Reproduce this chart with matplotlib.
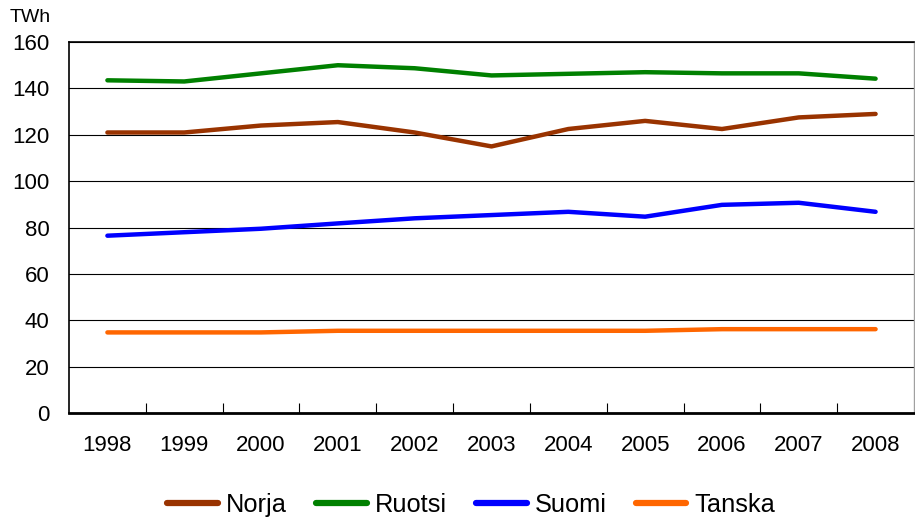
import numpy as np
import matplotlib.pyplot as plt

plt.rcParams['font.family'] = ['Liberation Sans', 'DejaVu Sans']

years = ['1998', '1999', '2000', '2001', '2002', '2003', '2004', '2005', '2006', '2007', '2008']
norja = [121, 121, 124, 125.5, 121, 115, 122.5, 126, 122.5, 127.5, 129]
ruotsi = [143.5, 143, 146.5, 150, 148.7, 145.6, 146.3, 147, 146.5, 146.5, 144.2]
suomi = [76.5, 78, 79.5, 81.8, 84, 85.4, 86.8, 84.7, 89.8, 90.7, 86.8]
tanska = [34.8, 34.8, 34.8, 35.5, 35.5, 35.5, 35.5, 35.5, 36.2, 36.2, 36.2]

series = [('Norja', norja, '#993300'),
          ('Ruotsi', ruotsi, '#008000'),
          ('Suomi', suomi, '#0000ff'),
          ('Tanska', tanska, '#ff6600')]

fig = plt.figure(figsize=(9.15, 5.19), dpi=100)
ax = fig.add_axes([0.0754, 0.204, 0.9235, 0.715])

x = np.arange(len(years))
for name, vals, col in series:
    ax.plot(x, vals, color=col, linewidth=3.2, solid_capstyle='round', label=name)

ax.set_xlim(-0.5, len(years) - 0.5)
ax.set_ylim(0, 160)
ax.set_yticks(range(0, 161, 20))
ax.yaxis.grid(True, color='black', linewidth=0.8)
ax.set_axisbelow(True)
ax.tick_params(axis='y', length=0, pad=14, labelsize=16)

# tick marks between categories, labels at category centres
ax.set_xticks(x[:-1] + 0.5)
ax.set_xticklabels([])
ax.tick_params(axis='x', which='major', direction='in', length=7, width=0.8)
ax.set_xticks(x, minor=True)
ax.set_xticklabels(years, minor=True)
ax.tick_params(axis='x', which='minor', length=0, pad=16, labelsize=16)

for s in ['left', 'top']:
    ax.spines[s].set_color('black')
    ax.spines[s].set_linewidth(1.2)
ax.spines['bottom'].set_linewidth(2)
ax.spines['right'].set_color('#a0a0a0')
ax.spines['right'].set_linewidth(1)

fig.text(0.011, 0.967, 'TWh', fontsize=14, ha='left', va='center')

leg = fig.legend(loc='center', bbox_to_anchor=(0.515, 0.027), ncol=4, frameon=False,
                 fontsize=18.3, handlelength=2.0, handletextpad=0.3, columnspacing=1.15)
for h in leg.get_lines():
    h.set_linewidth(4.5)

plt.savefig('out.png', dpi=100)
